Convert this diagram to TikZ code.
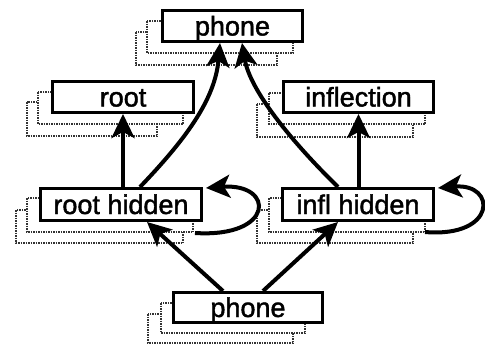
\documentclass[tikz,border=0pt]{standalone}
\usepackage{fontspec}
\setmainfont[FakeBold=1.6]{Liberation Sans}
\usetikzlibrary{arrows.meta,calc}
\begin{document}
\begin{tikzpicture}[x=1pt,y=-1pt,
  shadowbox/.style={draw=black!80, fill=white, line width=1.5pt, densely dotted},
  unitbox/.style={draw=black, fill=white, line width=3pt, inner sep=0pt,
    text height=19pt, text depth=0pt, font=\fontsize{27}{31}\selectfont},
  link/.style={line width=4pt, -{Stealth[length=24pt,width=23pt,inset=6pt]}}]
\useasboundingbox (0,0) rectangle (485,354);

% stacked copies behind each unit
\draw[shadowbox] (136,32) rectangle (277,65);
\draw[shadowbox] (147,21) rectangle (293,53);
\draw[shadowbox] (27,102) rectangle (157,136);
\draw[shadowbox] (38,92) rectangle (183,124);
\draw[shadowbox] (257,104) rectangle (413,137);
\draw[shadowbox] (269,93) rectangle (425,124);
\draw[shadowbox] (16,210) rectangle (183,243);
\draw[shadowbox] (27,198) rectangle (193,232);
\draw[shadowbox] (257,210) rectangle (413,243);
\draw[shadowbox] (269,198) rectangle (425,232);
\draw[shadowbox] (148,314) rectangle (293,343);
\draw[shadowbox] (161,303) rectangle (305,333);

% units
\node[unitbox, minimum width=140pt, minimum height=31pt] (phtop) at (232.5,26) {phone};
\node[unitbox, minimum width=141pt, minimum height=31pt] (root) at (123,97) {root};
\node[unitbox, minimum width=150pt, minimum height=31pt] (infl) at (358.5,97) {inflection};
\node[unitbox, minimum width=161pt, minimum height=32pt] (rooth) at (121,204.5) {root hidden};
\node[unitbox, minimum width=151pt, minimum height=32pt] (inflh) at (358,204.5) {infl hidden};
\node[unitbox, minimum width=149pt, minimum height=30pt] (phbot) at (248,307.5) {phone};

% connections
\draw[link] (rooth.north -| root.south) -- (root.south);
\draw[link] (inflh.north -| infl.south) -- (infl.south);
\draw[link] ([xshift=19pt]rooth.north) .. controls (185,140) and (215,100) .. ([xshift=-12.5pt]phtop.south);
\draw[link] ([xshift=-20pt]inflh.north) .. controls (290,140) and (250,90) .. ([xshift=9.5pt]phtop.south);
\draw[link] ([xshift=-25pt]phbot.north) -- ([xshift=26pt]rooth.south);
\draw[link] ([xshift=15pt]phbot.north) -- ([xshift=-20pt]inflh.south);

% recurrent loops
\draw[link] ($(rooth.south east)+(-8,11)$) .. controls (275,238) and (275,183) .. ($(rooth.north east)+(3,1)$);
\draw[link] ($(inflh.south east)+(-10,10)$) .. controls (497,238) and (497,183) .. ($(inflh.north east)+(3,1)$);
\end{tikzpicture}
\end{document}
